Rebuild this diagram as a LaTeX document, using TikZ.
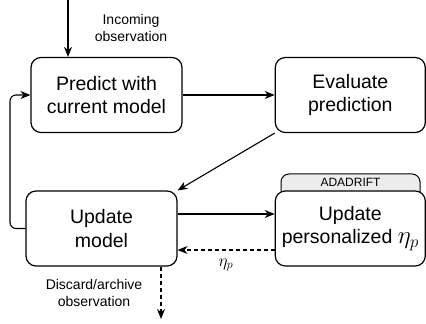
\documentclass[tikz,border=0pt]{standalone}
\usepackage{fontspec}
\setmainfont{Liberation Sans}
\usetikzlibrary{arrows.meta,calc}
\begin{document}
\begin{tikzpicture}[x=1pt,y=1pt,
  box/.style={draw, line width=1.2pt, rounded corners=10pt, fill=white, align=center,
    minimum width=151pt, minimum height=75pt, inner sep=0pt,
    font=\fontsize{19.5}{23.5}\selectfont},
  arr/.style={line width=1.1pt, -{Stealth[length=10pt,width=8pt]}},
  darr/.style={arr, dashed, dash pattern=on 4pt off 3pt},
  lbl/.style={align=center, font=\fontsize{14}{16.5}\selectfont, inner sep=0pt}]
\useasboundingbox (0,0) rectangle (426,324);
% tab behind box 4
\draw[line width=1pt, fill=gray!15, rounded corners=8pt] (281,125) -- (281,150) -- (420,150) -- (420,125);
\node[font=\fontsize{12}{14}\selectfont, inner sep=0pt] (tab) at (350.5,141.5) {ADADRIFT};
\node[box] (b1) at (106.5,229) {Predict with\\current model};
\node[box, minimum width=150pt] (b2) at (350.3,229) {Evaluate\\prediction};
\node[box] (b3) at (101.5,95.5) {Update\\model};
\node[box, minimum width=150pt] (b4) at (350.3,95.5) {Update\\personalized {\fontsize{25}{23.5}\selectfont$\eta_p$}};
\coordinate (in) at (68,324);
\coordinate (out) at (161,5);
\coordinate (lp) at (10,0);
\draw[arr] (in) -- (in |- b1.north);
\node[lbl] (inl) at (131,296) {Incoming\\observation};
\draw[arr] (b1.east) -- (b2.west);
\draw[arr] (b2.south west) -- (b3.north east);
\draw[arr, rounded corners=6pt] (b3.west) -- (lp |- b3.west) -- (lp |- b1.west) -- (b1.west);
\draw[arr] ([yshift=14.5pt]b3.east) -- ([yshift=14.5pt]b3.east -| b4.west);
\draw[darr] ([yshift=-21.5pt]b4.west) -- ([yshift=-21.5pt]b4.west -| b3.east) coordinate (de);
\node[font=\fontsize{17}{18}\selectfont] (eta) at (226,59) {$\eta_p$};
\draw[darr] (out |- b3.south) -- (out);
\node[lbl] (disc) at (94,31) {Discard/archive\\observation};
\end{tikzpicture}
\end{document}
